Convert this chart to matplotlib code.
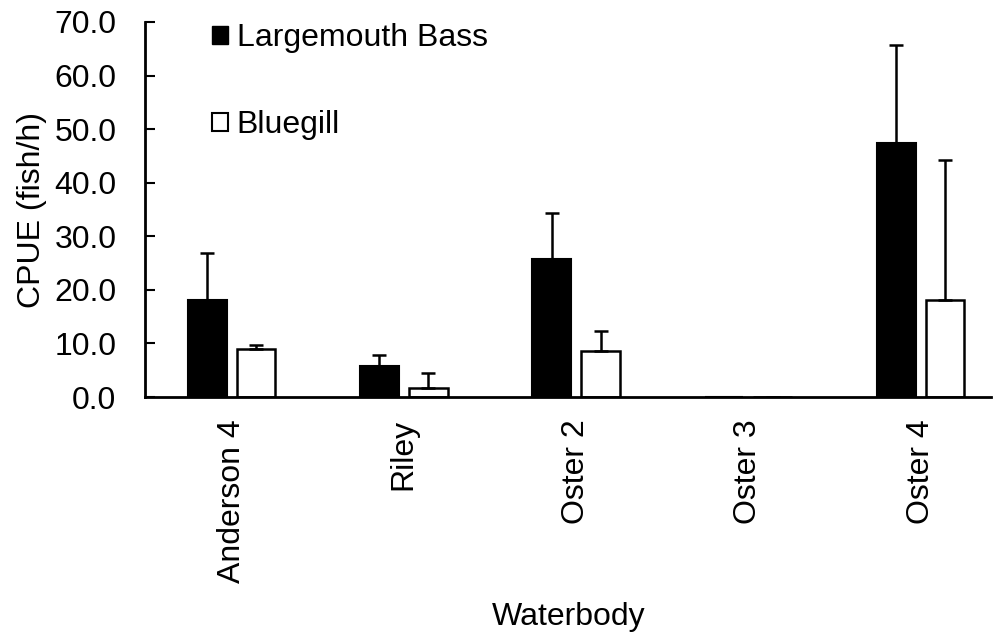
import numpy as np
import matplotlib.pyplot as plt
from matplotlib.patches import Patch

plt.rcParams['font.family'] = ['Liberation Sans', 'DejaVu Sans']

waterbodies = ['Anderson 4', 'Riley', 'Oster 2', 'Oster 3', 'Oster 4']
bass = [18.1, 5.8, 25.7, 0.0, 47.5]
bass_err = [8.8, 2.0, 8.7, 0.0, 18.2]
bluegill = [8.9, 1.7, 8.6, 0.0, 18.1]
bluegill_err = [0.8, 2.7, 3.8, 0.0, 26.1]

fs = 23

fig = plt.figure(figsize=(9.95, 6.34), dpi=100)
ax = fig.add_axes([0.1462, 0.3738, 0.85, 0.5915])

x = np.arange(len(waterbodies))
w = 0.225
off = 0.142
ekw = dict(ecolor='black', elinewidth=1.8, capsize=5, capthick=1.8)
lo = [0] * len(x)

ax.bar(x - off, bass, w, color='black', edgecolor='black', linewidth=1.5,
       yerr=[lo, bass_err], error_kw=ekw, zorder=2)
ax.bar(x + off, bluegill, w, color='white', edgecolor='black', linewidth=1.8,
       yerr=[lo, bluegill_err], error_kw=ekw, zorder=2)

ax.set_xlim(-0.5, 4.41)
ax.set_ylim(0, 70)
ax.set_yticks(np.arange(0, 71, 10))
ax.set_yticklabels(['%.1f' % v for v in np.arange(0, 71, 10)])
ax.set_xticks(x)
ax.set_xticklabels(waterbodies, rotation=90)
ax.tick_params(axis='y', direction='in', length=7, width=1.5, labelsize=fs, pad=21)
ax.tick_params(axis='x', length=0, labelsize=fs, pad=16)
for s in ['top', 'right']:
    ax.spines[s].set_visible(False)
for s in ['left', 'bottom']:
    ax.spines[s].set_linewidth(2)

ax.set_ylabel('CPUE (fish/h)', fontsize=fs, labelpad=5)
ax.set_xlabel('Waterbody', fontsize=fs, labelpad=14)

handles = [Patch(facecolor='black', edgecolor='black', label='Largemouth Bass'),
           Patch(facecolor='white', edgecolor='black', linewidth=1.5, label='Bluegill')]
ax.legend(handles=handles, loc='upper left', bbox_to_anchor=(0.079, 0.997),
          frameon=False, fontsize=fs, handlelength=0.5, handleheight=0.5,
          handletextpad=0.26, labelspacing=1.78, borderpad=0, borderaxespad=0)

fig.savefig('out.png', dpi=100)
